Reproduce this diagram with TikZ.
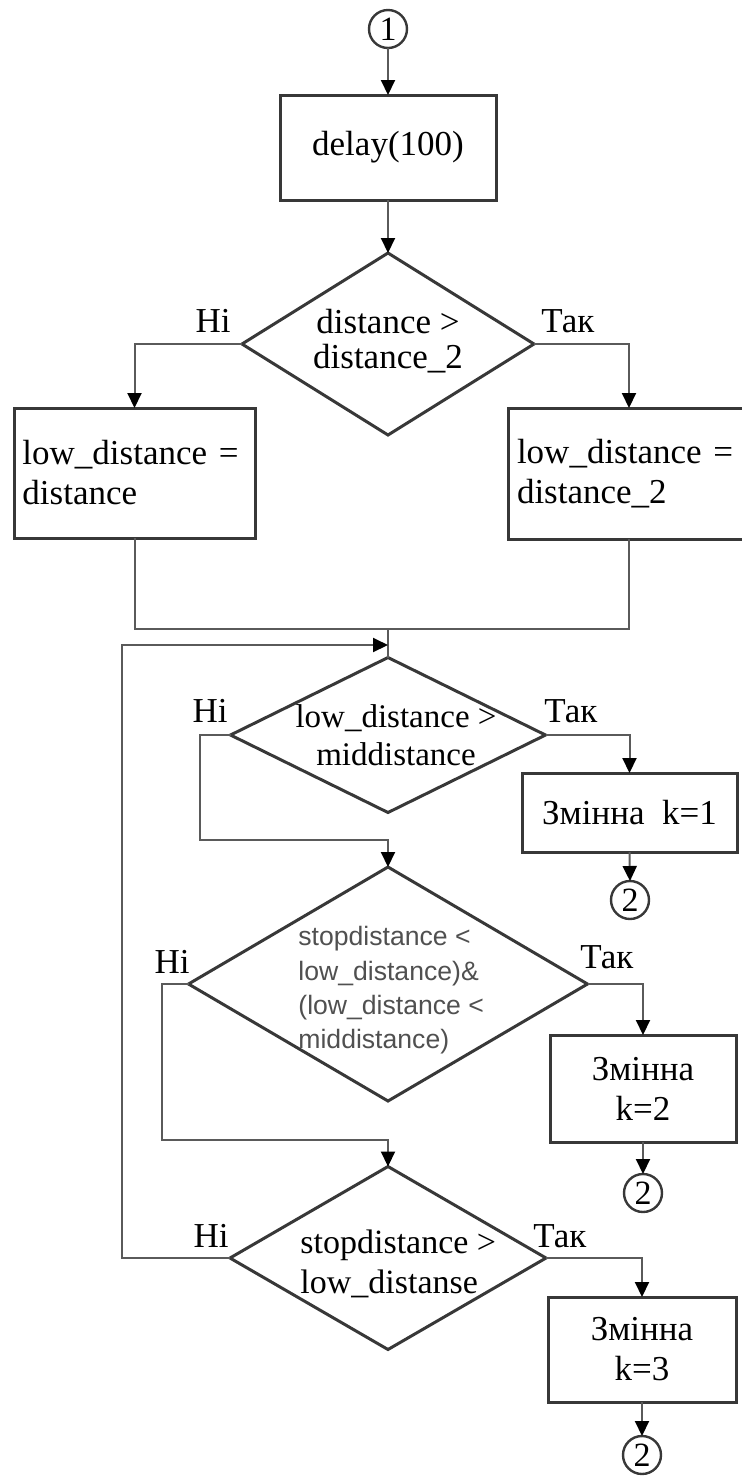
\documentclass[tikz,border=0pt]{standalone}
\usepackage{fontspec}
\setmainfont{Liberation Serif}
\newfontfamily\sansf{Liberation Sans}
\usetikzlibrary{shapes.geometric,arrows.meta}
\definecolor{edgec}{HTML}{383838}
\definecolor{connc}{HTML}{5A5A5A}
\definecolor{stxt}{HTML}{505050}
\begin{document}
\begin{tikzpicture}[x=0.5pt,y=-0.5pt,
  box/.style={draw=edgec,line width=1.5pt,rectangle,inner sep=0pt,outer sep=0pt,font=\fontsize{17.5}{20}\selectfont},
  dec/.style={draw=edgec,line width=1.5pt,diamond,inner sep=0pt,outer sep=0pt},
  conn/.style={draw=connc,line width=1pt},
  arr/.style={conn,-{Triangle[width=7pt,length=7.5pt,color=black]}},
  term/.style={draw=edgec,line width=1.2pt,circle,minimum size=19pt,inner sep=0pt,outer sep=0pt,font=\fontsize{17}{17}\selectfont},
  lbl/.style={font=\fontsize{17.5}{20}\selectfont,inner sep=0pt},
  dtxt/.style={font=\fontsize{16.5}{19}\selectfont,inner sep=0pt},
]
\useasboundingbox (0,0) rectangle (741,1479);

% nodes
\node[term] (c1) at (388,29) {1};
\node[box,minimum width=108pt,minimum height=52.5pt] (delay) at (388,147.5) {delay(100)};

\node[dec,minimum width=146pt,minimum height=91pt] (d1) at (388,344) {};
\node[inner sep=0pt,font=\fontsize{17.5}{17.5}\selectfont,align=center,anchor=north] (t1) at (388,309) {distance >\\distance\_2};
\node[lbl,anchor=base east] (d1no) at (231,332) {Ні};
\node[lbl,anchor=base west] (d1yes) at (541,332) {Так};

\node[box,minimum width=120.5pt,minimum height=65pt,text width=112pt,align=left] (lbox) at (134.5,473) {low\_distance =\\distance};
\node[box,minimum width=121pt,minimum height=65.5pt,text width=112pt,align=left] (rbox) at (629,473.5) {low\_distance =\\distance\_2};

\coordinate (m) at (388,629);
\coordinate (lx) at (122,645);
\coordinate (lp) at (388,645);

\node[dec,minimum width=157.5pt,minimum height=77.5pt] (d2) at (388,735) {};
\node[dtxt,align=center,anchor=north] (t2) at (396,704.5) {low\_distance >\\middistance};
\node[lbl,anchor=base east] (d2no) at (228,722) {Ні};
\node[lbl,anchor=base west] (d2yes) at (544,722) {Так};

\node[box,minimum width=107.5pt,minimum height=39.5pt] (k1) at (629.5,812.5) {Змінна\ \ k=1};
\node[term] (c2a) at (630,900) {2};

\coordinate (n2) at (200,840);

\node[dec,minimum width=199.5pt,minimum height=117pt] (d3) at (388,984) {};
\node[inner sep=0pt,font=\sansf\fontsize{13.3}{17.2}\selectfont,text=stxt,align=left,anchor=north west] (t3) at (298,926) {stopdistance <\\low\_distance)\&\\(low\_distance <\\middistance)};
\node[lbl,anchor=base east] (d3no) at (190,973) {Ні};
\node[lbl,anchor=base west] (d3yes) at (580,968) {Так};

\node[box,minimum width=93pt,minimum height=53.5pt,align=center] (k2) at (643,1088.5) {Змінна\\k=2};
\node[term] (c2b) at (643,1193) {2};

\coordinate (n3) at (162,1140);

\node[dec,minimum width=158pt,minimum height=91.5pt] (d4) at (388,1258) {};
\node[dtxt,font=\fontsize{17}{20}\selectfont,align=left,anchor=north west] (t4) at (300,1229) {stopdistance >\\low\_distanse};
\node[lbl,anchor=base east] (d4no) at (229,1247) {Ні};
\node[lbl,anchor=base west] (d4yes) at (533,1247) {Так};

\node[box,minimum width=94pt,minimum height=52.5pt,align=center] (k3) at (642,1349.5) {Змінна\\k=3};
\node[term] (c2c) at (642,1455) {2};

% connectors
\draw[arr] (c1.south) -- (delay.north);
\draw[arr] (delay.south) -- (d1.north);
\draw[arr] (d1.west) -| (lbox.north);
\draw[arr] (d1.east) -| (rbox.north);
\draw[conn] (lbox.south) |- (m);
\draw[conn] (rbox.south) |- (m);
\draw[conn] (m) -- (d2.north);
\draw[arr] (d4.west) -| (lx) -- (lp);
\draw[arr] (d2.west) -| (n2) -| (d3.north);
\draw[arr] (d2.east) -| (k1.north);
\draw[arr] (k1.south) -- (c2a.north);
\draw[arr] (d3.west) -| (n3) -| (d4.north);
\draw[arr] (d3.east) -| (k2.north);
\draw[arr] (k2.south) -- (c2b.north);
\draw[arr] (d4.east) -| (k3.north);
\draw[arr] (k3.south) -- (c2c.north);
\end{tikzpicture}
\end{document}
